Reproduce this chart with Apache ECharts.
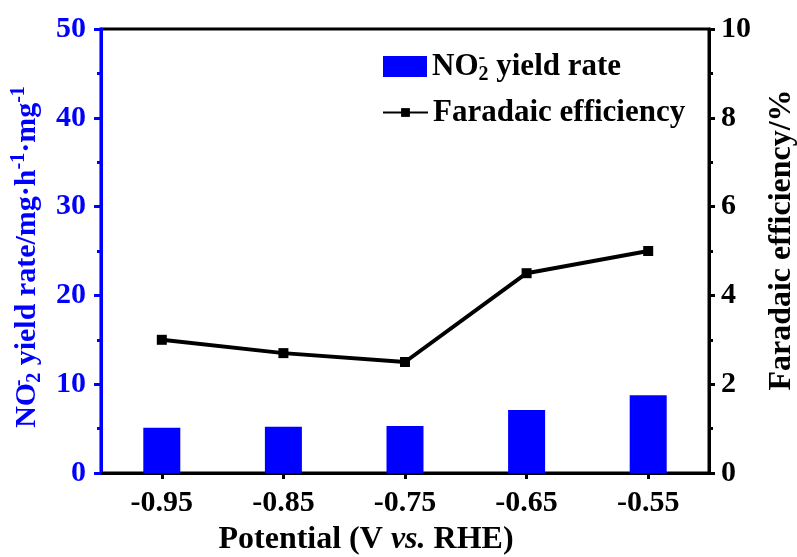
<!DOCTYPE html>
<html>
<head>
<meta charset="utf-8">
<script src="https://cdn.jsdelivr.net/npm/echarts@6/dist/echarts.min.js"></script>
<style>
  html, body { margin: 0; padding: 0; background: #fff; }
  #chart { width: 797px; height: 557px; }
</style>
</head>
<body>
<div id="chart"></div>
<script>
// Applied potentials (V vs. RHE), used as category labels
const potentials = ['-0.95', '-0.85', '-0.75', '-0.65', '-0.55'];
// NO2- yield rate (mg h^-1 mg^-1)
const yieldRate = [5.1, 5.2, 5.3, 7.1, 8.75];
// Faradaic efficiency (%)
const faradaicEff = [3.0, 2.7, 2.5, 4.5, 5.0];

const FONT = '"Liberation Serif", "Times New Roman", serif';
const BLUE = '#0000ff';

const chart = echarts.init(document.getElementById('chart'), null, { renderer: 'canvas' });

const richBase = (size, color) => ({
  t: { fontFamily: FONT, fontWeight: 'bold', fontSize: size, color: color, lineHeight: size + 6 },
  sup: { fontFamily: FONT, fontWeight: 'bold', fontSize: Math.round(size * 0.65), color: color, lineHeight: size + 6, verticalAlign: 'top' },
  supz: { fontFamily: FONT, fontWeight: 'bold', fontSize: Math.round(size * 0.65), color: color, lineHeight: size + 6, verticalAlign: 'top', width: 0.01 },
  sub: { fontFamily: FONT, fontWeight: 'bold', fontSize: Math.round(size * 0.65), color: color, lineHeight: size + 6, verticalAlign: 'bottom' }
});

chart.setOption({
  animation: false,
  backgroundColor: '#fff',
  grid: {
    left: 101, right: 88, top: 29, bottom: 84,
    outerBoundsMode: 'none',
    containLabel: false,
    show: true, borderColor: '#000', borderWidth: 3, backgroundColor: 'transparent'
  },
  legend: [
    {
      left: 383, top: 48, padding: 0,
      icon: 'rect',
      itemWidth: 44, itemHeight: 21,
      data: ['yield'],
      formatter: () => '{t|NO}{supz|-}{sub|2}{t| yield rate}',
      textStyle: { fontFamily: FONT, fontWeight: 'bold', fontSize: 31, color: '#000', rich: richBase(31, '#000') }
    },
    {
      left: 382, top: 97, padding: 0,
      itemWidth: 45, itemHeight: 11,
      data: ['fe'],
      formatter: () => '{t|Faradaic efficiency}',
      textStyle: { fontFamily: FONT, fontWeight: 'bold', fontSize: 31, color: '#000', rich: richBase(31, '#000') }
    }
  ],
  xAxis: {
    type: 'category',
    data: potentials,
    boundaryGap: true,
    name: 'Potential (V {i|vs.} RHE)',
    nameLocation: 'middle',
    nameGap: 51,
    nameTextStyle: {
      fontFamily: FONT, fontWeight: 'bold', fontSize: 32, color: '#000',
      padding: [0, 78, 0, 0],
      rich: {
        i: { fontFamily: FONT, fontWeight: 'bold', fontStyle: 'italic', fontSize: 32, color: '#000' }
      }
    },
    splitLine: { show: false },
    axisLine: { show: true, lineStyle: { color: '#000', width: 3 } },
    axisTick: { show: true, alignWithLabel: true, length: 6, lineStyle: { color: '#000', width: 3 } },
    axisLabel: {
      margin: 15,
      fontFamily: FONT, fontWeight: 'bold', fontSize: 30, color: '#000'
    }
  },
  yAxis: [
    {
      type: 'value',
      min: 0, max: 50, interval: 10,
      position: 'left',
      name: '{t|NO}{supz|-}{sub|2}{t| yield rate/mg·h}{sup|-1}{t|·mg}{sup|-1}',
      nameLocation: 'middle',
      nameGap: 55,
      nameRotate: 90,
      nameTextStyle: { color: BLUE, padding: [0, 12, 0, 0], rich: richBase(30, BLUE) },
      splitLine: { show: false },
      axisLine: { show: true, lineStyle: { color: BLUE, width: 3 } },
      axisTick: { show: true, length: 7, lineStyle: { color: BLUE, width: 3 } },
      minorTick: { show: true, splitNumber: 2, length: 4, lineStyle: { color: BLUE, width: 3 } },
      axisLabel: {
        margin: 15,
        fontFamily: FONT, fontWeight: 'bold', fontSize: 30, color: BLUE
      }
    },
    {
      type: 'value',
      min: 0, max: 10, interval: 2,
      position: 'right',
      name: 'Faradaic efficiency/%',
      nameLocation: 'middle',
      nameGap: 57,
      nameRotate: 90,
      nameTextStyle: {
        fontFamily: FONT, fontWeight: 'bold', fontSize: 32, color: '#000',
        padding: [0, 0, 0, 22]
      },
      splitLine: { show: false },
      axisLine: { show: true, lineStyle: { color: '#000', width: 3 } },
      axisTick: { show: true, length: 6, lineStyle: { color: '#000', width: 3 } },
      minorTick: { show: true, splitNumber: 2, length: 4, lineStyle: { color: '#000', width: 3 } },
      axisLabel: {
        margin: 12,
        fontFamily: FONT, fontWeight: 'bold', fontSize: 30, color: '#000'
      }
    }
  ],
  series: [
    {
      name: 'yield',
      type: 'bar',
      yAxisIndex: 0,
      barWidth: 37,
      itemStyle: { color: BLUE },
      data: yieldRate
    },
    {
      name: 'fe',
      type: 'line',
      yAxisIndex: 1,
      symbol: 'rect',
      symbolSize: 10,
      lineStyle: { color: '#000', width: 4 },
      itemStyle: { color: '#000' },
      data: faradaicEff
    }
  ]
});
</script>
</body>
</html>
